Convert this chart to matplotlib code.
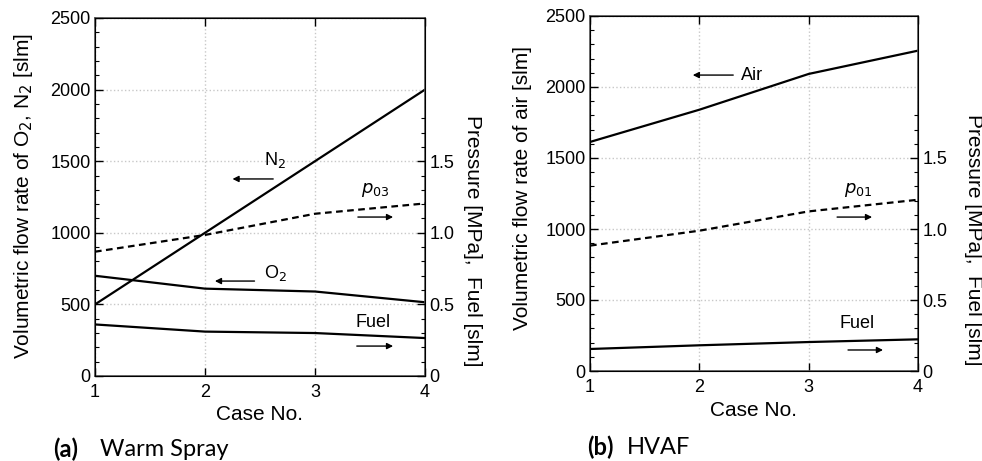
import matplotlib.pyplot as plt
from matplotlib.ticker import MultipleLocator, FixedLocator

plt.rcParams['font.family'] = ['Liberation Sans', 'DejaVu Sans']

# data
case_no = [1, 2, 3, 4]

# (a) Warm Spray
ws_n2 = [500, 1000, 1500, 2000]
ws_o2 = [700, 610, 590, 515]
ws_fuel = [0.360, 0.310, 0.300, 0.265]
ws_p03 = [0.868, 0.985, 1.133, 1.205]

# (b) HVAF
hv_air = [1613, 1840, 2092, 2256]
hv_fuel = [0.155, 0.181, 0.204, 0.223]
hv_p01 = [0.883, 0.988, 1.124, 1.206]

W, H = 982, 461
fig = plt.figure(figsize=(W / 100, H / 100), dpi=100)


def make_axes(x0, x1, y0, y1, left_label, left_xy, right_xy):
    ax = fig.add_axes([x0 / W, 1 - y1 / H, (x1 - x0) / W, (y1 - y0) / H])
    ax.set_xlim(1, 4)
    ax.set_ylim(0, 2500)
    ax.set_xticks(case_no)
    ax.yaxis.set_major_locator(MultipleLocator(500))
    ax.yaxis.set_minor_locator(MultipleLocator(100))
    ax.tick_params(axis='both', which='both', direction='in', labelsize=13,
                   top=True, right=False)
    ax.tick_params(which='major', length=6, width=1)
    ax.tick_params(which='minor', length=3, width=0.8)
    ax.tick_params(axis='x', pad=6)
    ax.tick_params(axis='y', pad=3)
    ax.grid(True, which='major', color='#c8c8c8', linestyle=':', linewidth=1)
    ax.set_xlabel('Case No.', fontsize=15, labelpad=3)
    ax.set_ylabel(left_label, fontsize=15)
    ax.yaxis.label.set_va('center')
    ax.yaxis.set_label_coords(*left_xy)
    for s in ax.spines.values():
        s.set_color('#555555')
        s.set_linewidth(1.2)

    ax2 = ax.twinx()
    ax2.set_ylim(0, 2.5)
    ax2.yaxis.set_major_locator(FixedLocator([0, 0.5, 1.0, 1.5]))
    ax2.yaxis.set_minor_locator(FixedLocator([i / 10 for i in range(0, 19)]))
    ax2.set_yticklabels(['0', '0.5', '1.0', '1.5'])
    ax2.tick_params(axis='y', which='both', direction='in', labelsize=13,
                    pad=3)
    ax2.tick_params(which='major', length=6, width=1)
    ax2.tick_params(which='minor', length=3, width=0.8)
    ax2.set_ylabel('Pressure [MPa],  Fuel [slm]', fontsize=15, rotation=-90)
    ax2.yaxis.label.set_va('center')
    ax2.yaxis.set_label_coords(*right_xy)
    return ax, ax2


def arrow(ax, x_from, x_to, y):
    ax.annotate('', xy=(x_to, y), xytext=(x_from, y),
                arrowprops=dict(arrowstyle='-|>', color='black', lw=1,
                                mutation_scale=9, shrinkA=0, shrinkB=0))


# (a) Warm Spray
axa, axa2 = make_axes(95, 425, 18, 376,
                      'Volumetric flow rate of O$_2$, N$_2$ [slm]',
                      (-0.218, 0.503), (1.145, 0.377))
axa.plot(case_no, ws_n2, color='black', lw=1.6)
axa.plot(case_no, ws_o2, color='black', lw=1.6)
axa2.plot(case_no, ws_fuel, color='black', lw=1.6)
axa2.plot(case_no, ws_p03, color='black', lw=1.6, linestyle=(0, (3, 2)))

axa.text(2.64, 1508, 'N$_2$', fontsize=13, ha='center', va='center')
arrow(axa, 2.62, 2.25, 1376)
axa.text(2.64, 719, 'O$_2$', fontsize=13, ha='center', va='center')
arrow(axa, 2.45, 2.09, 663)
axa.text(3.55, 1299, '$p_{03}$', fontsize=13, ha='center', va='center')
arrow(axa, 3.39, 3.71, 1110)
axa.text(3.53, 377, 'Fuel', fontsize=13, ha='center', va='center')
arrow(axa, 3.38, 3.71, 209)

# (b) HVAF
axb, axb2 = make_axes(590, 918, 16, 371, 'Volumetric flow rate of air [slm]',
                      (-0.207, 0.515), (1.168, 0.369))
axb.plot(case_no, hv_air, color='black', lw=1.6)
axb2.plot(case_no, hv_fuel, color='black', lw=1.6)
axb2.plot(case_no, hv_p01, color='black', lw=1.6, linestyle=(0, (3, 2)))

axb.text(2.48, 2084, 'Air', fontsize=13, ha='center', va='center')
arrow(axb, 2.31, 1.94, 2084)
axb.text(3.45, 1275, '$p_{01}$', fontsize=13, ha='center', va='center')
arrow(axb, 3.26, 3.58, 1084)
axb.text(3.44, 336, 'Fuel', fontsize=13, ha='center', va='center')
arrow(axb, 3.36, 3.68, 148)

# panel captions
fig.text(53 / W, 1 - 449 / H, '(a)', fontsize=17, fontweight='bold',
         family='Lato', va='center')
fig.text(100 / W, 1 - 449 / H, 'Warm Spray', fontsize=17,
         family='Lato', va='center')
fig.text(587 / W, 1 - 447 / H, '(b)', fontsize=17, fontweight='bold',
         family='Lato', va='center')
fig.text(627 / W, 1 - 447 / H, 'HVAF', fontsize=17,
         family='Lato', va='center')

fig.savefig('out.png', dpi=100)
